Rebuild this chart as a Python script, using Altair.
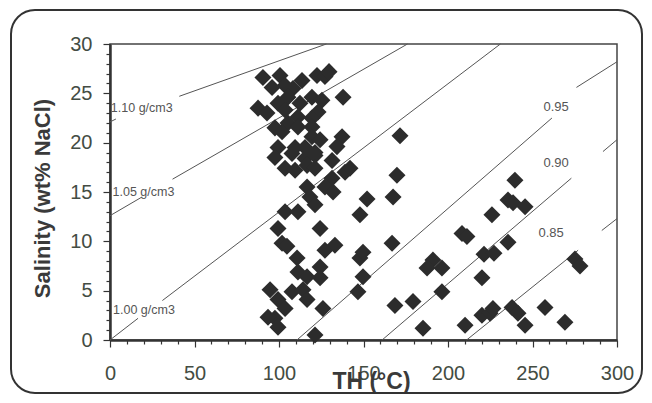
import altair as alt
import pandas as pd

# Fluid inclusion data: homogenisation temperature (TH, °C) vs salinity (wt% NaCl)
th = [90.5, 100.6, 103.6, 95.9, 108.3, 113.6, 122.5, 127.2, 129.6, 137.9,
      87.6, 92.9, 99.4, 105.3, 112.4, 119.5, 125.4, 123.1, 103.6, 111.2,
      119.5, 105.3, 97.6, 101.8, 111.2, 119.5, 119.5, 124.3, 99.4, 109.5,
      115.4, 121.3, 137.3, 134.3, 97.6, 107.7, 115.4, 121.3, 103.6, 109.5,
      116.6, 121.3, 131.4, 139.1, 142.0, 131.4, 127.2, 132.0, 116.6, 118.3,
      121.3, 103.6, 111.2, 99.4, 124.3, 101.8, 104.7, 127.2, 133.1, 110.7,
      111.2, 124.3, 124.3, 116.6, 107.7, 114.2, 116.6, 94.7, 99.4, 103.6,
      97.6, 93.5, 99.4, 126.0, 121.3, 147.9, 149.7, 146.7, 149.7, 152.1,
      167.5, 147.9, 171.6, 169.8, 166.9, 208.3, 211.2, 191.1, 187.6, 196.4,
      221.3, 227.2, 220.1, 196.4, 168.6, 179.3, 185.2, 210.1, 220.1, 224.9,
      226.0, 239.6, 235.5, 238.5, 245.6, 235.5, 226.6, 237.9, 241.4, 245.6,
      257.4, 269.2, 275.1, 278.1]
salinity = [26.6, 26.8, 25.8, 25.6, 25.5, 26.3, 26.8, 26.7, 27.2, 24.6,
            23.5, 23.0, 24.0, 24.6, 24.0, 24.6, 24.3, 23.1, 23.3, 22.6,
            22.5, 22.0, 21.5, 21.1, 21.6, 21.6, 20.6, 20.3, 19.5, 19.5,
            19.5, 19.0, 20.6, 19.6, 18.5, 18.9, 18.4, 18.7, 17.4, 17.2,
            17.7, 17.4, 18.2, 17.0, 17.4, 16.4, 15.5, 15.0, 15.5, 14.5,
            13.7, 13.0, 13.0, 11.3, 11.3, 9.8, 9.5, 9.1, 9.6, 8.3,
            6.9, 7.4, 6.3, 6.4, 4.9, 5.1, 4.1, 5.1, 4.1, 3.2,
            2.2, 2.3, 1.3, 3.2, 0.5, 8.3, 8.9, 4.9, 6.4, 14.3,
            14.5, 12.7, 20.7, 16.7, 9.8, 10.8, 10.5, 8.1, 7.3, 7.3,
            8.7, 8.8, 6.3, 4.9, 3.5, 3.9, 1.2, 1.5, 2.5, 2.7,
            12.7, 16.2, 14.2, 13.9, 13.5, 9.9, 3.2, 3.3, 2.7, 1.5,
            3.3, 1.8, 8.2, 7.5]

# Density isochores (drawn as segments, interrupted where labelled)
iso_x1 = [0, 41, 0, 37, 0, 31, 110.6, 276, 161, 291.7, 211, 291]
iso_y1 = [22.1, 24.7, 12.6, 16.3, 0, 4.0, 0, 25.6, 0, 19.1, 0, 11.1]
iso_x2 = [3.5, 128, 19, 176, 16.6, 231, 261.5, 300, 273, 300, 277, 300]
iso_y2 = [22.4, 30, 14.5, 30, 2.2, 30, 22.5, 28.2, 16.4, 20.3, 9.1, 12.3]

# Isochore labels: left-hand (g/cm3) and right-hand ones
left_labels = ["1.10 g/cm3", "1.05 g/cm3", "1.00 g/cm3"]
left_lab_x = [0.5, 1.5, 1.8]
left_lab_y = [23.5, 15.0, 3.0]
right_labels = ["0.95", "0.90", "0.85"]
right_lab_x = [264, 264, 261]
right_lab_y = [23.6, 17.9, 10.8]

x_ticks = list(range(0, 301, 10))
y_ticks = list(range(0, 31, 1))

pts = pd.DataFrame({"th": th, "sal": salinity})
segs = pd.DataFrame({"x1": iso_x1, "y1": iso_y1, "x2": iso_x2, "y2": iso_y2})
labs_l = pd.DataFrame({"x": left_lab_x, "y": left_lab_y, "t": left_labels})
labs_r = pd.DataFrame({"x": right_lab_x, "y": right_lab_y, "t": right_labels})

FONT = "Liberation Sans"
LABEL_COLOR = "#434c43"

xscale = alt.Scale(domain=[0, 300], nice=False, zero=False)
yscale = alt.Scale(domain=[0, 30], nice=False, zero=False)

xaxis = alt.Axis(
    values=x_ticks,
    labelExpr="datum.value % 50 === 0 ? datum.label : ''",
    labelOverlap=False, labelFlush=False,
    labelFont=FONT, labelFontSize=20, labelColor=LABEL_COLOR, labelPadding=16,
    tickSize={"condition": {"test": "datum.value % 50 === 0", "value": 7}, "value": 4},
    tickColor="#333", tickWidth=1.2,
    domainColor="#333", domainWidth=2.5,
    grid=False,
    title="TH (°C)", titleFont=FONT, titleFontSize=23, titleFontWeight="bold",
    titleColor="#3a3a3a", titleX=261, titleY=41, titleBaseline="middle", titleAlign="center",
)
yaxis = alt.Axis(
    values=y_ticks,
    labelExpr="datum.value % 5 === 0 ? datum.label : ''",
    labelOverlap=False, labelFlush=False,
    labelFont=FONT, labelFontSize=20, labelColor=LABEL_COLOR, labelPadding=11,
    tickSize={"condition": {"test": "datum.value % 5 === 0", "value": 7}, "value": 4},
    tickColor="#333", tickWidth=1.2,
    domainColor="#333", domainWidth=2.5,
    grid=False,
    title="Salinity (wt% NaCl)", titleFont=FONT, titleFontSize=22, titleFontWeight="bold",
    titleColor="#3a3a3a", titleX=-68, titleY=154, titleBaseline="middle", titleAlign="center",
    titleAngle=270,
)

border = alt.Chart(pd.DataFrame({"k": [0]})).mark_rect(
    fillOpacity=0, stroke="#333", strokeWidth=2, cornerRadius=24
).encode(x=alt.value(-99), x2=alt.value(532), y=alt.value(-34), y2=alt.value(349))

lines = alt.Chart(segs).mark_rule(color="#555", strokeWidth=1).encode(
    x=alt.X("x1:Q", scale=xscale, axis=xaxis),
    y=alt.Y("y1:Q", scale=yscale, axis=yaxis),
    x2="x2:Q", y2="y2:Q",
)

points = alt.Chart(pts).mark_point(
    shape="diamond", filled=True, size=290, color="#2c2c2c", opacity=1
).encode(
    x=alt.X("th:Q", scale=xscale, axis=xaxis),
    y=alt.Y("sal:Q", scale=yscale, axis=yaxis),
)

texts_l = alt.Chart(labs_l).mark_text(
    font=FONT, fontSize=12.5, color="#555", baseline="middle", align="left"
).encode(
    x=alt.X("x:Q", scale=xscale, axis=xaxis),
    y=alt.Y("y:Q", scale=yscale, axis=yaxis),
    text="t:N",
)
texts_r = alt.Chart(labs_r).mark_text(
    font=FONT, fontSize=13, color="#555", baseline="middle", align="center"
).encode(
    x=alt.X("x:Q", scale=xscale, axis=xaxis),
    y=alt.Y("y:Q", scale=yscale, axis=yaxis),
    text="t:N",
)

chart = alt.layer(border, lines, points, texts_l, texts_r).properties(
    width=507, height=296,
    autosize=alt.AutoSizeParams(type="none"),
    padding={"left": 102, "top": 36, "right": 27, "bottom": 55},
    background="white",
).configure_view(stroke="#444", strokeWidth=1.5)

chart.save("out.html", embed_options={"renderer": "svg", "actions": False})
